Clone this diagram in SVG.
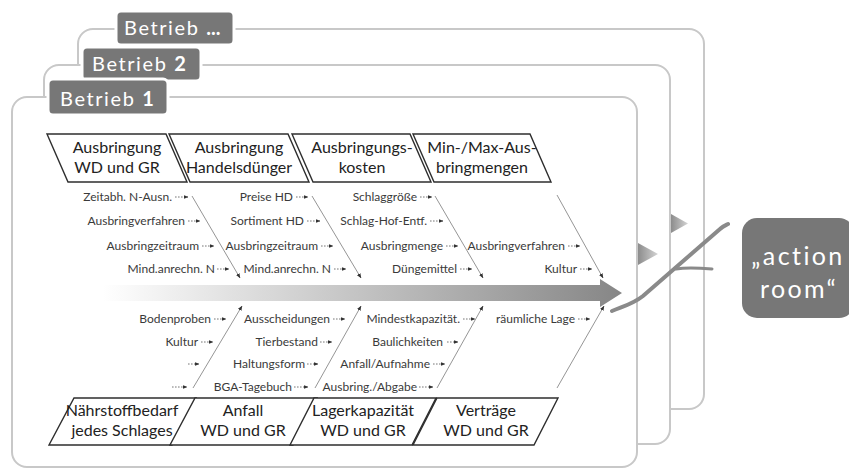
<svg xmlns="http://www.w3.org/2000/svg" width="849" height="471" viewBox="0 0 849 471">
<defs>
<style>
.frame{fill:#fff;stroke:#c8c8c8;stroke-width:2}
.tab{fill:#777;stroke:#fff;stroke-width:3}
.tabt{font-family:Lato,"Open Sans",sans-serif;font-size:20px;fill:#fff;letter-spacing:1.6px}
.tabt tspan.b{font-weight:bold;letter-spacing:0}
.cat{fill:#fff;stroke:#2e2e2e;stroke-width:1.4}
.catt{font-family:Lato,"Open Sans",sans-serif;font-size:16px;fill:#222;text-anchor:middle}
.lbl{font-family:Lato,"Open Sans",sans-serif;font-size:12px;fill:#3a3a3a;text-anchor:end}
.bone{stroke:#7a7a7a;stroke-width:0.8;fill:none;marker-end:url(#bh)}
.da{stroke:#666;stroke-width:0.9;stroke-dasharray:1.6 1.4;fill:none;marker-end:url(#sh)}
.act{font-family:Lato,"Open Sans",sans-serif;font-size:25px;fill:#fff;text-anchor:middle;letter-spacing:2.4px}
</style>
<marker id="bh" viewBox="0 0 6 6" refX="5.5" refY="3" markerWidth="5" markerHeight="5" markerUnits="userSpaceOnUse" orient="auto"><path d="M0,0.6 L6,3 L0,5.4 z" fill="#333"/></marker>
<marker id="sh" viewBox="0 0 6 6" refX="5.5" refY="3" markerWidth="4.5" markerHeight="4.5" markerUnits="userSpaceOnUse" orient="auto"><path d="M0,0.6 L6,3 L0,5.4 z" fill="#333"/></marker>
<linearGradient id="spg" x1="0" y1="0" x2="1" y2="0"><stop offset="0" stop-color="#ffffff"/><stop offset="1" stop-color="#868686"/></linearGradient>
<linearGradient id="trg" x1="0" y1="0" x2="1" y2="0"><stop offset="0" stop-color="#8c8c8c"/><stop offset="1" stop-color="#d4d4d4"/></linearGradient>
</defs>

<g id="frame3"><rect class="frame" x="78" y="29" width="626" height="380" rx="15"/></g>
<g id="tab3"><rect class="tab" x="116" y="11" width="118" height="34" rx="5"/><text class="tabt" x="124" y="35">Betrieb <tspan class="b">...</tspan></text></g>
<g id="frame2"><rect class="frame" x="44" y="65" width="626" height="379" rx="15"/></g>
<g id="tab2"><rect class="tab" x="82" y="47" width="119" height="34" rx="5"/><text class="tabt" x="92" y="71">Betrieb <tspan class="b">2</tspan></text></g>
<g id="frame1"><rect class="frame" x="12" y="97" width="625" height="370" rx="15"/></g>
<g id="tab1"><rect class="tab" x="48" y="79" width="120" height="36" rx="5"/><text class="tabt" x="60" y="106">Betrieb <tspan class="b">1</tspan></text></g>

<g id="pins">
<path d="M638,243 L638,265 L658,254 z" fill="url(#trg)"/>
<path d="M671,214 L671,233 L688,223.5 z" fill="url(#trg)"/>
</g>

<g id="connectors">
<path d="M103,285 L600,285 L600,279 L622,293 L600,307 L600,301 L103,301 z" fill="url(#spg)"/>
<path d="M612,311 C624,306 633,304 643,296 L720,229 C723,226 726,225 728,224" fill="none" stroke="#8a8a8a" stroke-width="4" stroke-linecap="round"/>
<path d="M676,269 C688,267 700,268 712,269" fill="none" stroke="#8a8a8a" stroke-width="3" stroke-linecap="round"/>
<line class="bone" x1="192" y1="196" x2="240" y2="278"/>
<line class="bone" x1="312" y1="196" x2="361" y2="278"/>
<line class="bone" x1="435" y1="196" x2="483" y2="278"/>
<line class="bone" x1="557" y1="195" x2="603" y2="278"/>
<line class="bone" x1="193" y1="388" x2="242" y2="306"/>
<line class="bone" x1="315" y1="388" x2="361" y2="306"/>
<line class="bone" x1="437" y1="388" x2="483" y2="306"/>
<line class="bone" x1="557" y1="388" x2="604" y2="306"/>
<line class="da" x1="175" y1="197" x2="188" y2="197"/>
<line class="da" x1="188" y1="221" x2="200" y2="221"/>
<line class="da" x1="202" y1="246" x2="214" y2="246"/>
<line class="da" x1="217" y1="269" x2="229" y2="269"/>
<line class="da" x1="296" y1="197" x2="308" y2="197"/>
<line class="da" x1="307" y1="221" x2="320" y2="221"/>
<line class="da" x1="321" y1="246" x2="333" y2="246"/>
<line class="da" x1="334" y1="269" x2="346" y2="269"/>
<line class="da" x1="420" y1="197" x2="432" y2="197"/>
<line class="da" x1="430" y1="221" x2="443" y2="221"/>
<line class="da" x1="446" y1="246" x2="458" y2="246"/>
<line class="da" x1="460" y1="269" x2="472" y2="269"/>
<line class="da" x1="568" y1="246" x2="580" y2="246"/>
<line class="da" x1="580" y1="269" x2="592" y2="269"/>
<line class="da" x1="214" y1="319" x2="226" y2="319"/>
<line class="da" x1="201" y1="342" x2="213" y2="342"/>
<line class="da" x1="188" y1="364" x2="199" y2="364"/>
<line class="da" x1="172" y1="387" x2="187" y2="387"/>
<line class="da" x1="333" y1="319" x2="345" y2="319"/>
<line class="da" x1="320" y1="342" x2="332" y2="342"/>
<line class="da" x1="307" y1="364" x2="318" y2="364"/>
<line class="da" x1="294" y1="387" x2="308" y2="387"/>
<line class="da" x1="463" y1="319" x2="475" y2="319"/>
<line class="da" x1="447" y1="342" x2="458" y2="342"/>
<line class="da" x1="433" y1="364" x2="445" y2="364"/>
<line class="da" x1="419" y1="387" x2="433" y2="387"/>
<line class="da" x1="578" y1="319" x2="590" y2="319"/>
</g>

<g id="cat-top1"><path class="cat" d="M47,134 L166,134 L187,182 L68,182 z"/><text class="catt" x="117" y="153">Ausbringung</text><text class="catt" x="117" y="173">WD und GR</text></g>
<g id="cat-top2"><path class="cat" d="M169,134 L288,134 L309,182 L190,182 z"/><text class="catt" x="239" y="153">Ausbringung</text><text class="catt" x="239" y="173">Handelsdünger</text></g>
<g id="cat-top3"><path class="cat" d="M292,134 L410,134 L431,182 L313,182 z"/><text class="catt" x="362" y="153">Ausbringungs-</text><text class="catt" x="362" y="173">kosten</text></g>
<g id="cat-top4"><path class="cat" d="M413,134 L530,134 L551,182 L434,182 z"/><text class="catt" x="482" y="153">Min-/Max-Aus-</text><text class="catt" x="482" y="173">bringmengen</text></g>

<g id="cat-bot1"><path class="cat" d="M74,398 L196,398 L172,445 L49,445 z"/><text class="catt" x="122" y="416">Nährstoffbedarf</text><text class="catt" x="122" y="436">jedes Schlages</text></g>
<g id="cat-bot2"><path class="cat" d="M195,398 L317,398 L293,445 L170,445 z"/><text class="catt" x="243" y="416">Anfall</text><text class="catt" x="243" y="436">WD und GR</text></g>
<g id="cat-bot3"><path class="cat" d="M314,398 L436,398 L412,445 L290,445 z"/><text class="catt" x="363" y="416">Lagerkapazität</text><text class="catt" x="363" y="436">WD und GR</text></g>
<g id="cat-bot4"><path class="cat" d="M437,398 L558,398 L534,445 L413,445 z"/><text class="catt" x="486" y="416">Verträge</text><text class="catt" x="486" y="436">WD und GR</text></g>

<g id="labels-top">
<text class="lbl" x="172" y="201">Zeitabh. N-Ausn.</text>
<text class="lbl" x="185" y="225">Ausbringverfahren</text>
<text class="lbl" x="199" y="250">Ausbringzeitraum</text>
<text class="lbl" x="215" y="273">Mind.anrechn. N</text>
<text class="lbl" x="293" y="201">Preise HD</text>
<text class="lbl" x="304" y="225">Sortiment HD</text>
<text class="lbl" x="318" y="250">Ausbringzeitraum</text>
<text class="lbl" x="331" y="273">Mind.anrechn. N</text>
<text class="lbl" x="417" y="201">Schlaggröße</text>
<text class="lbl" x="427" y="225">Schlag-Hof-Entf.</text>
<text class="lbl" x="443" y="250">Ausbringmenge</text>
<text class="lbl" x="457" y="273">Düngemittel</text>
<text class="lbl" x="565" y="250">Ausbringverfahren</text>
<text class="lbl" x="577" y="273">Kultur</text>
</g>
<g id="labels-bottom">
<text class="lbl" x="211" y="323">Bodenproben</text>
<text class="lbl" x="198" y="346">Kultur</text>
<text class="lbl" x="330" y="323">Ausscheidungen</text>
<text class="lbl" x="318" y="346">Tierbestand</text>
<text class="lbl" x="305" y="368">Haltungsform</text>
<text class="lbl" x="292" y="391">BGA-Tagebuch</text>
<text class="lbl" x="460" y="323">Mindestkapazität.</text>
<text class="lbl" x="443" y="346">Baulichkeiten</text>
<text class="lbl" x="430" y="368">Anfall/Aufnahme</text>
<text class="lbl" x="417" y="391">Ausbring./Abgabe</text>
<text class="lbl" x="575" y="323">räumliche Lage</text>
</g>

<g id="action-room"><rect x="742" y="218" width="112" height="100" rx="15" fill="#777"/><text class="act" x="798" y="265">„action</text><text class="act" x="799" y="298">room“</text></g>
</svg>
